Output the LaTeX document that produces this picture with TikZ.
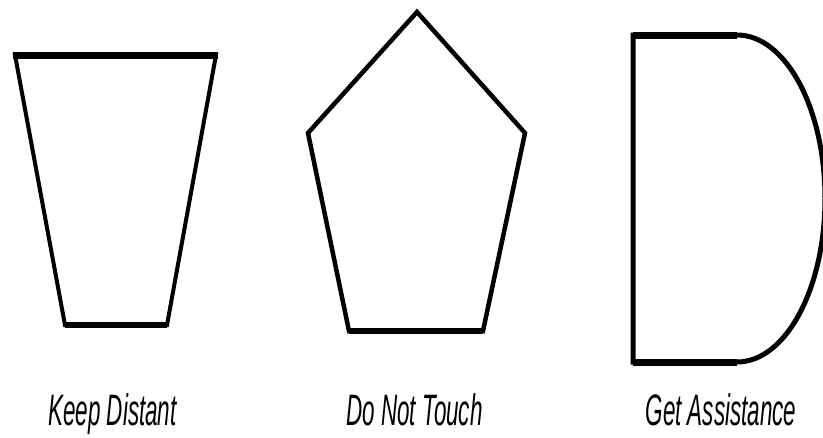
\documentclass[tikz,border=0pt]{standalone}
\usepackage{fontspec}
\setmainfont{Liberation Sans}
\begin{document}
\begin{tikzpicture}[x=1pt,y=-1pt,
  outline/.style={line width=4pt,line join=miter,black},
  heavy/.style={line width=7pt},
  lbl/.style={anchor=base,inner sep=0pt,font=\fontsize{44}{46}\selectfont\itshape}]
\useasboundingbox (0,0) rectangle (823,437);
\fill[white] (0,0) rectangle (823,437);
% Keep Distant: trapezoid
\draw[outline] (15,55) -- (65,325) -- (167,325) -- (216,55) -- cycle;
\draw[heavy] (13,55) -- (218,55);
\draw[line width=6pt] (65,325) -- (167,325);
% Do Not Touch: pentagon
\draw[outline,line width=4.5pt] (417,12) -- (525,133) -- (483,331) -- (349,331) -- (308,133) -- cycle;
\draw[line width=6pt] (349,331) -- (483,331);
% Get Assistance: D shape
\begin{scope}
\clip (0,0) rectangle (823,437);
\draw[outline,line width=5pt] (633,35) -- (737,35) arc[start angle=-90,end angle=90,x radius=88,y radius=163.5] -- (633,362) -- cycle;
\draw[heavy] (633,35) -- (737,35);
\draw[heavy] (633,362) -- (737,362);
\end{scope}
\node[lbl] (kd) at (112.5,425) {\scalebox{0.51}[1]{Keep Distant}};
\node[lbl] (dnt) at (414.5,425) {\scalebox{0.51}[1]{Do Not Touch}};
\node[lbl] (ga) at (721,425) {\scalebox{0.51}[1]{Get Assistance}};
\end{tikzpicture}
\end{document}
